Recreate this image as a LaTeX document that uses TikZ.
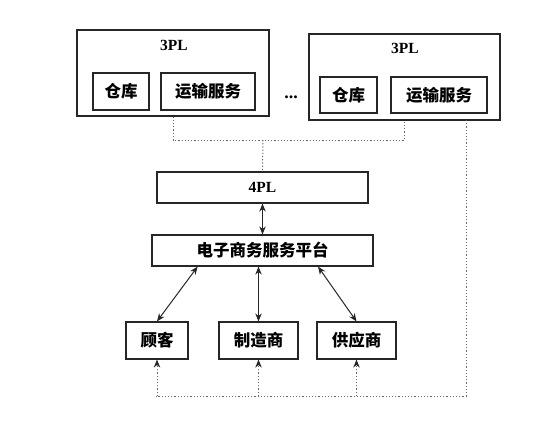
\documentclass[tikz,border=0pt]{standalone}
\usepackage{fontspec}
\setmainfont{Liberation Serif}
\newfontfamily\cjk{Noto Sans CJK SC}
\usetikzlibrary{arrows.meta,calc}
\begin{document}
\begin{tikzpicture}[x=1pt,y=-1pt,
  box/.style={draw=black!85,line width=1.2pt,inner sep=0pt,anchor=center},
  cn/.style={font=\cjk\bfseries\fontsize{16.5}{16.5}\selectfont},
  lat/.style={font=\bfseries\fontsize{15.5}{15.5}\selectfont},
  dotline/.style={draw=black!60,line width=1pt,dash pattern=on 1.2pt off 2pt},
  biarrow/.style={draw=black!85,line width=1pt,{Stealth[length=8pt,width=6.5pt]}-{Stealth[length=8pt,width=6.5pt]}},
  uparrow/.style={dotline,-{Stealth[length=8pt,width=6.5pt,color=black!85,fill=black!85]}}
]
\useasboundingbox (0,0) rectangle (548,437);
% left 3PL
\node[box,minimum width=192pt,minimum height=86pt] (L) at (173,73) {};
\node[lat] (Lt) at (174,45) {3PL};
\node[box,cn,minimum width=56pt,minimum height=37pt] (Lw) at (121,91.5) {仓库};
\node[box,cn,minimum width=94pt,minimum height=37pt] (Ls) at (208,91.5) {运输服务};
% dots
\node[lat,font=\bfseries\fontsize{18}{18}\selectfont] (dots) at (291,97) {...};
% right 3PL
\node[box,minimum width=191pt,minimum height=86pt] (R) at (404.5,77) {};
\node[lat] (Rt) at (405,48) {3PL};
\node[box,cn,minimum width=57pt,minimum height=36pt] (Rw) at (348.5,95) {仓库};
\node[box,cn,minimum width=96pt,minimum height=36pt] (Rs) at (439,95) {运输服务};
% 4PL and platform
\node[box,lat,minimum width=211pt,minimum height=31pt] (F) at (262.5,187.5) {4PL};
\node[box,cn,minimum width=221pt,minimum height=31pt] (P) at (262.5,250.5) {电子商务服务平台};
% bottom
\node[box,cn,minimum width=62pt,minimum height=37pt] (C1) at (157,340.5) {顾客};
\node[box,cn,minimum width=79pt,minimum height=37pt] (C2) at (258.5,340.5) {制造商};
\node[box,cn,minimum width=79pt,minimum height=37pt] (C3) at (356.5,340.5) {供应商};
% dotted connections on top
\coordinate (j) at (263,140);
\draw[dotline] (L.south) |- (j) -| (R.south);
\draw[dotline] (j) -- (F.north);
% dotted line on the right and bottom
\coordinate (rb) at (466,120);
\coordinate (bot) at (156,396);
\draw[dotline] (rb) |- (bot);
\draw[uparrow] (C1.south |- bot) -- (C1.south);
\draw[uparrow] (C2.south |- bot) -- (C2.south);
\draw[uparrow] (C3.south |- bot) -- (C3.south);
% solid arrows
\draw[biarrow] (F.south) -- (P.north);
\draw[biarrow] ($(P.south west)!0.208!(P.south east)$) -- (C1.north);
\draw[biarrow] (P.south -| C2.north) -- (C2.north);
\draw[biarrow] ($(P.south west)!0.75!(P.south east)$) -- (C3.north);
\end{tikzpicture}
\end{document}
